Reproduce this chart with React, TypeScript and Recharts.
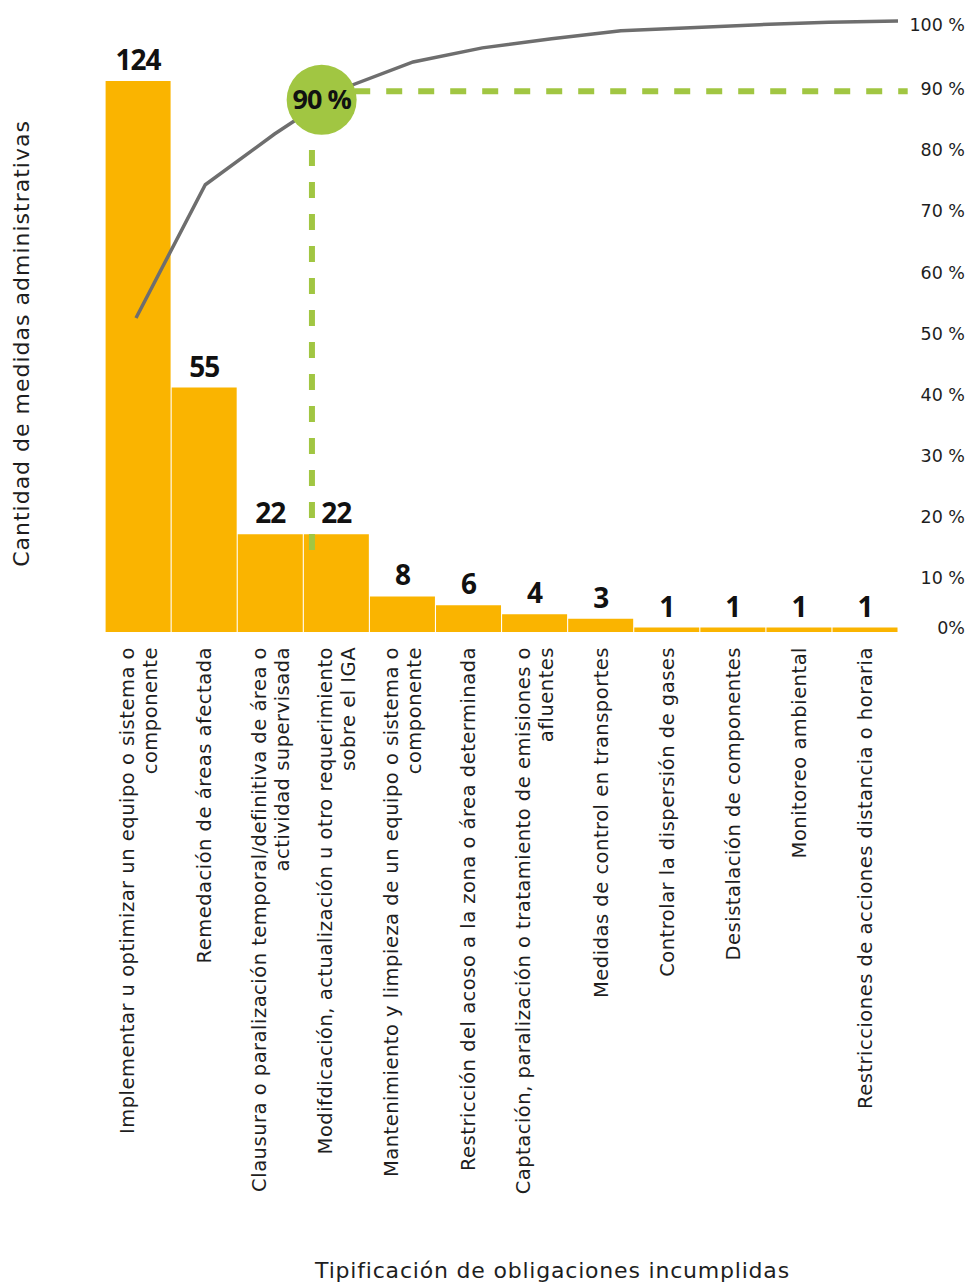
import React from 'react';
import {
  ComposedChart,
  Bar,
  Line,
  XAxis,
  YAxis,
  LabelList,
  ReferenceDot,
  ReferenceLine,
  Label,
} from 'recharts';

// ---------- data ----------
const categoryLines: string[][] = [
  ['Implementar u optimizar un equipo o sistema o', 'componente'],
  ['Remedación de áreas afectada'],
  ['Clausura o paralización temporal/definitiva de área o', 'actividad supervisada'],
  ['Modifdicación, actualización u otro requerimiento', 'sobre el IGA'],
  ['Mantenimiento y limpieza de un equipo o sistema o', 'componente'],
  ['Restricción del acoso a la zona o área determinada'],
  ['Captación, paralización o tratamiento de emisiones o', 'afluentes'],
  ['Medidas de control en transportes'],
  ['Controlar la dispersión de gases'],
  ['Desistalación de componentes'],
  ['Monitoreo ambiental'],
  ['Restricciones de acciones distancia o horaria'],
];
const counts = [124, 55, 22, 22, 8, 6, 4, 3, 1, 1, 1, 1];
const cumulativePct = [51.4, 73.2, 81.5, 89, 93.3, 95.6, 97.1, 98.4, 98.9, 99.4, 99.8, 100];
const pctTicks = [0, 10, 20, 30, 40, 50, 60, 70, 80, 90, 100];
const pctTickLabels = ['0%', '10 %', '20 %', '30 %', '40 %', '50 %', '60 %', '70 %', '80 %', '90 %', '100 %'];

// annotation (threshold marker) values, in line-axis units
const markerIndex = 2.68;
const markerPct = 87.1;
const markerText = '90 %';
const thresholdPct = 88.5;
const thresholdFrom = 3.15;
const thresholdTo = 11.14;
const dropIndex = 2.54;
const dropFrom = 78.9;
const dropTo = 13.1;

const yTitle = 'Cantidad de medidas administrativas';
const xTitle = 'Tipificación de obligaciones incumplidas';

const data = categoryLines.map((lines, i) => ({
  name: lines.join(' '),
  count: counts[i],
  pct: cumulativePct[i],
  idx: i,
}));

// ---------- styles ----------
const FONT = '"DejaVu Sans", sans-serif';
const BOLD_FONT = '"Open Sans", sans-serif';
const BAR_COLOR = '#FAB400';
const GREEN = '#A1C642';
const LINE_COLOR = '#6E6E6E';
const TEXT = '#1E1E1E';

const CategoryTick = (props: any) => {
  const { x, y, payload } = props;
  const lines = categoryLines[payload.index] || [String(payload.value)];
  const lh = 23;
  const x0 = x - ((lines.length - 1) * lh) / 2;
  return (
    <text
      transform={`translate(${x0}, ${y + 15}) rotate(-90)`}
      textAnchor="end"
      fontFamily={FONT}
      fontSize={19.5}
      letterSpacing={0.5}
      fill={TEXT}
    >
      {lines.map((l, i) => (
        <tspan key={i} x={0} dy={i === 0 ? '0.36em' : lh}>
          {l}
        </tspan>
      ))}
    </text>
  );
};

const PctTick = (props: any) => {
  const { x, y, payload } = props;
  const v = payload.value;
  const shift = v === 0 ? -4 : v === 100 ? 4 : 7;
  const label = pctTickLabels[pctTicks.indexOf(v)];
  return (
    <text
      x={x + 67}
      y={y + shift}
      dy="0.35em"
      textAnchor="end"
      fontFamily={FONT}
      fontSize={17.5}
      fill={TEXT}
    >
      {label}
    </text>
  );
};

const YTitle = (props: any) => {
  const vb = props.viewBox;
  const cx = vb.x + 21;
  const cy = vb.y + vb.height / 2 + 17;
  return (
    <text
      transform={`translate(${cx}, ${cy}) rotate(-90)`}
      textAnchor="middle"
      dy="0.35em"
      fontFamily={FONT}
      fontSize={22}
      letterSpacing={1}
      fill={TEXT}
    >
      {yTitle}
    </text>
  );
};

const XTitle = (props: any) => {
  const vb = props.viewBox;
  return (
    <text
      x={vb.x + vb.width / 2 + 51}
      y={vb.y + 646}
      textAnchor="middle"
      fontFamily={FONT}
      fontSize={22}
      letterSpacing={0.8}
      fill={TEXT}
    >
      {xTitle}
    </text>
  );
};

export default function App() {
  return (
    <div style={{ position: 'absolute', left: 0, top: 0, width: 968, height: 1284, background: '#fff' }}>
      <ComposedChart
        width={968}
        height={1284}
        data={data}
        margin={{ top: 21, right: 0, bottom: 0, left: 0 }}
        barCategoryGap={0.6}
      >
        <XAxis
          xAxisId="bar"
          dataKey="name"
          type="category"
          interval={0}
          height={652}
          axisLine={false}
          tickLine={false}
          tickSize={0}
          tickMargin={0}
          tick={<CategoryTick />}
        >
          <Label content={<XTitle />} />
        </XAxis>
        <XAxis
          xAxisId="line"
          dataKey="idx"
          type="number"
          domain={[0, 11]}
          padding={{ left: 31, right: 0 }}
          hide
        />
        <YAxis
          yAxisId="count"
          type="number"
          domain={[0, 137.5]}
          ticks={[0, 137.5]}
          width={105}
          tick={false}
          axisLine={false}
          tickLine={false}
        >
          <Label content={<YTitle />} />
        </YAxis>
        <YAxis
          yAxisId="pct"
          orientation="right"
          type="number"
          domain={[0, 100]}
          ticks={pctTicks}
          width={70}
          axisLine={false}
          tickLine={false}
          tickSize={0}
          tickMargin={0}
          tick={<PctTick />}
        />
        <Bar
          dataKey="count"
          xAxisId="bar"
          yAxisId="count"
          fill={BAR_COLOR}
          isAnimationActive={false}
        >
          <LabelList
            dataKey="count"
            position="top"
            offset={11}
            fontFamily={BOLD_FONT}
            fontSize={28}
            fontWeight={700}
            fill="#111"
            letterSpacing={-1}
          />
        </Bar>
        <ReferenceLine
          xAxisId="line"
          yAxisId="pct"
          segment={[
            { x: dropIndex, y: dropFrom },
            { x: dropIndex, y: dropTo },
          ]}
          stroke={GREEN}
          strokeWidth={6}
          strokeDasharray="16 16"
          ifOverflow="visible"
        />
        <ReferenceLine
          xAxisId="line"
          yAxisId="pct"
          segment={[
            { x: thresholdFrom, y: thresholdPct },
            { x: thresholdTo, y: thresholdPct },
          ]}
          stroke={GREEN}
          strokeWidth={6}
          strokeDasharray="16 16"
          ifOverflow="visible"
        />
        <Line
          dataKey="pct"
          xAxisId="line"
          yAxisId="pct"
          type="linear"
          stroke={LINE_COLOR}
          strokeWidth={3.5}
          dot={false}
          activeDot={false}
          isAnimationActive={false}
        />
        <ReferenceDot
          xAxisId="line"
          yAxisId="pct"
          x={markerIndex}
          y={markerPct}
          r={35}
          fill={GREEN}
          stroke="none"
          ifOverflow="visible"
        >
          <Label
            value={markerText}
            position="center"
            fontFamily={BOLD_FONT}
            fontSize={27}
            fontWeight={700}
            fill="#111"
            letterSpacing={-1}
          />
        </ReferenceDot>
      </ComposedChart>
    </div>
  );
}
